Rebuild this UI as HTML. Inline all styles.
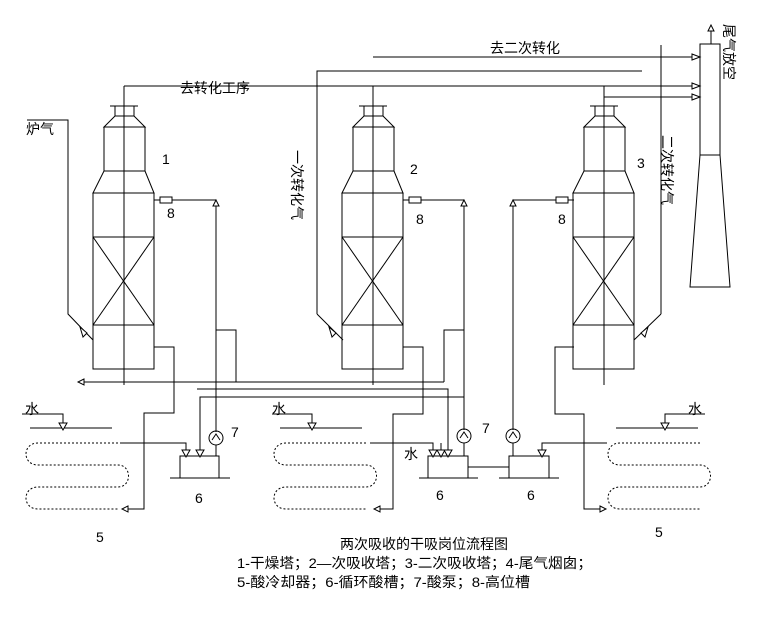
<!DOCTYPE html>
<html><head><meta charset="utf-8"><style>
html,body{margin:0;padding:0;background:#fff;}
svg{display:block;}
text{font-family:"Liberation Sans","Noto Sans CJK SC",sans-serif;fill:#000;}
</style></head><body>
<svg width="771" height="617" viewBox="0 0 771 617" xmlns="http://www.w3.org/2000/svg">
<defs>
<g id="tower" fill="none" stroke="#000" stroke-width="1">
  <line x1="110" y1="106" x2="138" y2="106"/>
  <rect x="115" y="106" width="19" height="10"/>
  <polyline points="115,116 104,127 145,127 134,116"/>
  <rect x="104" y="127" width="41" height="44"/>
  <polyline points="104,171 93,193 154,193 145,171"/>
  <rect x="93" y="193" width="61" height="176"/>
  <line x1="93" y1="237" x2="154" y2="237"/>
  <line x1="93" y1="325" x2="154" y2="325"/>
  <line x1="93" y1="237" x2="154" y2="325"/>
  <line x1="154" y1="237" x2="93" y2="325"/>
  <line x1="124" y1="86" x2="124" y2="385"/>
</g>
<g id="coil" fill="none" stroke="#000" stroke-width="1" stroke-dasharray="2,2">
  <path d="M118,443 H38 C22,443 22,465 38,465 H118 C132,465 132,487 118,487 H38 C22,487 22,509 38,509 H118"/>
</g>
<path id="ad" d="M-4,0 L4,0 L0,7 Z" fill="#fff" stroke="#000"/>
</defs>

<g fill="none" stroke="#000" stroke-width="1">
<use href="#tower"/>
<use href="#tower" x="249"/>
<use href="#tower" x="480"/>

<polyline points="124,86 700,86"/>
<polyline points="373,57 700,57"/>
<polyline points="317,314 317,71 642,71"/>
<polyline points="604,106 604,97 700,97"/>
<line x1="661" y1="45" x2="661" y2="314"/>
<line x1="661" y1="314" x2="634" y2="340"/>
<rect x="700" y="44" width="20" height="111"/>
<polyline points="700,155 690,287 730,287 720,155"/>
<line x1="711" y1="44" x2="711" y2="30"/>

<polyline points="27,120 68,120 68,314 93,340"/>
<polyline points="317,314 343,340"/>

<line x1="154" y1="200" x2="160" y2="200"/><rect x="160" y="197" width="12" height="6"/><polyline points="172,200 216,200 216,432"/>
<line x1="403" y1="200" x2="409" y2="200"/><rect x="409" y="197" width="12" height="6"/><polyline points="421,200 464,200 464,430"/>
<line x1="574" y1="200" x2="568" y2="200"/><rect x="556" y="197" width="12" height="6"/><polyline points="556,200 513,200 513,430"/>

<polyline points="154,347 174,347 174,413 144,413 144,509 122,509"/>
<polyline points="403,347 423,347 423,414 393,414 393,509 374,509"/>
<polyline points="574,347 555,347 555,414 584,414 584,509 606,509"/>

<polyline points="216,330 236,330 236,382"/>
<polyline points="464,330 444,330 444,382"/>
<line x1="80" y1="382" x2="444" y2="382"/>
<polyline points="197,389 448,389 448,455"/>
<polyline points="200,455 200,397 464,397"/>

<polyline points="22,414 63,414 63,424"/><line x1="30" y1="428" x2="112" y2="428"/>
<polyline points="272,414 312,414 312,424"/><line x1="280" y1="428" x2="362" y2="428"/>
<polyline points="705,414 665,414 665,424"/><line x1="616" y1="428" x2="698" y2="428"/>

<polyline points="120,443 186,443 186,452"/>
<polyline points="370,443 433,443 433,452"/>
<polyline points="607,443 542,443 542,452"/>
<line x1="441" y1="443" x2="441" y2="452"/>

<rect x="180" y="456" width="39" height="22"/><line x1="170" y1="478" x2="230" y2="478"/>
<rect x="428" y="456" width="40" height="22"/><line x1="419" y1="478" x2="478" y2="478"/>
<rect x="509" y="456" width="40" height="22"/><line x1="499" y1="478" x2="559" y2="478"/>
<line x1="468" y1="467" x2="509" y2="467"/>
<circle cx="216" cy="438" r="7"/><polyline points="212,440 216,434 220,440"/><line x1="216" y1="445" x2="216" y2="456"/>
<circle cx="464" cy="436" r="7"/><polyline points="460,438 464,432 468,438"/><line x1="464" y1="443" x2="464" y2="456"/>
<circle cx="513" cy="436" r="7"/><polyline points="509,438 513,432 517,438"/><line x1="513" y1="443" x2="513" y2="456"/>
</g>

<use href="#coil"/>
<use href="#coil" x="248"/>
<use href="#coil" x="582"/>

<g fill="#fff" stroke="#000">
<use href="#ad" x="63" y="423"/><use href="#ad" x="312" y="423"/><use href="#ad" x="665" y="423"/>
<use href="#ad" x="186" y="450"/><use href="#ad" x="200" y="450"/>
<use href="#ad" x="433" y="450"/><use href="#ad" x="441" y="450"/><use href="#ad" x="448" y="450"/>
<use href="#ad" x="542" y="450"/>
<path d="M692,54 L700,57 L692,60 Z"/><path d="M692,83 L700,86 L692,89 Z"/><path d="M692,94 L700,97 L692,100 Z"/>
<path d="M708,31 L711,25 L714,31 Z"/>
<path d="M213,206 L216,200 L219,206 Z"/><path d="M461,206 L464,200 L467,206 Z"/><path d="M510,206 L513,200 L516,206 Z"/>
<path d="M84,379 L78,382 L84,385 Z"/>
<path d="M128,506 L122,509 L128,512 Z"/><path d="M380,506 L374,509 L380,512 Z"/><path d="M600,506 L606,509 L600,512 Z"/>
<path d="M80,327 L87,333 L83,337 Z"/><path d="M329,327 L336,333 L332,337 Z"/><path d="M648,327 L641,333 L645,337 Z"/>
</g>

<g font-size="14">
<text x="180" y="93">去转化工序</text>
<text x="490" y="53">去二次转化</text>
<text x="26" y="134">炉气</text>
<text x="162" y="164">1</text><text x="410" y="174">2</text><text x="637" y="168">3</text>
<text x="167" y="218">8</text><text x="416" y="224">8</text><text x="558" y="224">8</text>
<text x="25" y="414">水</text><text x="272" y="414">水</text><text x="688" y="414">水</text><text x="404" y="459">水</text>
<text x="231" y="437">7</text><text x="482" y="433">7</text>
<text x="195" y="503">6</text><text x="436" y="500">6</text><text x="527" y="500">6</text>
<text x="96" y="542">5</text><text x="655" y="537">5</text>
<text transform="translate(292,150) rotate(90)">一次转化气</text>
<text transform="translate(662,135) rotate(90)">二次转化气</text>
<text transform="translate(724,24) rotate(90)">尾气放空</text>
<text x="340" y="549">两次吸收的干吸岗位流程图</text>
<text x="237" y="568" textLength="355" lengthAdjust="spacingAndGlyphs">1-干燥塔；2—次吸收塔；3-二次吸收塔；4-尾气烟囱；</text>
<text x="237" y="587" textLength="293" lengthAdjust="spacingAndGlyphs">5-酸冷却器；6-循环酸槽；7-酸泵；8-高位槽</text>
</g>
</svg>
</body></html>
